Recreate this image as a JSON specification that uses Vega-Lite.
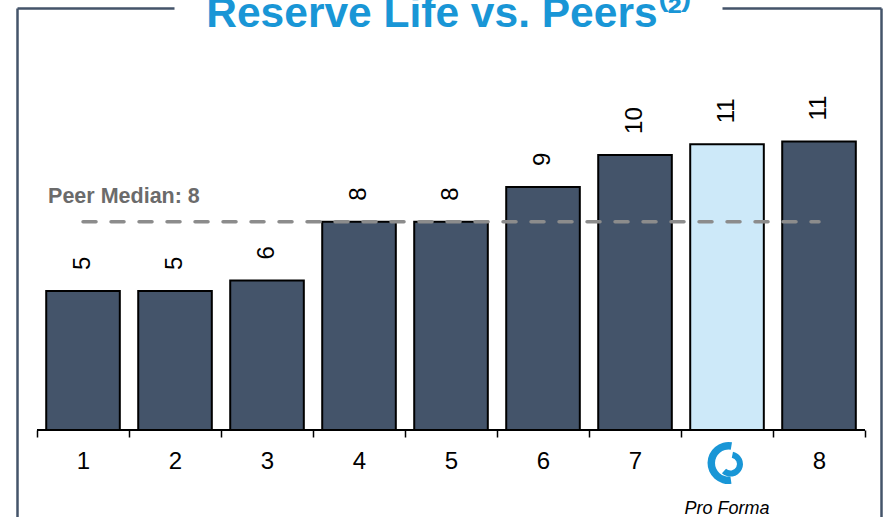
{
  "$schema": "https://vega.github.io/schema/vega-lite/v6.json",
  "width": 864,
  "height": 509,
  "autosize": {"type": "none"},
  "padding": {"left": 17, "top": 8, "right": 4, "bottom": 0},
  "background": "white",
  "config": {"view": {"stroke": null}, "font": "Liberation Sans"},
  "title": {
    "text": "Reserve Life vs. Peers⁽²⁾",
    "font": "Liberation Sans",
    "fontSize": 42.5,
    "fontWeight": "bold",
    "color": "#1996d6",
    "anchor": "middle",
    "baseline": "alphabetic",
    "offset": 0,
    "dy": 61,
    "frame": "group"
  },
  "datasets": {
    "peers": [
      {"company": "1", "reserve_life": 5.2, "group": "Peer"},
      {"company": "2", "reserve_life": 5.2, "group": "Peer"},
      {"company": "3", "reserve_life": 5.6, "group": "Peer"},
      {"company": "4", "reserve_life": 7.8, "group": "Peer"},
      {"company": "5", "reserve_life": 7.8, "group": "Peer"},
      {"company": "6", "reserve_life": 9.1, "group": "Peer"},
      {"company": "7", "reserve_life": 10.3, "group": "Peer"},
      {"company": "Pro Forma", "reserve_life": 10.7, "group": "Pro Forma"},
      {"company": "8", "reserve_life": 10.8, "group": "Peer"}
    ],
    "median": [{"label": "Peer Median", "reserve_life": 7.8}]
  },
  "data": {"name": "peers"},
  "resolve": {"axis": {"x": "independent", "y": "independent"}},
  "layer": [
    {
      "mark": {"type": "bar", "stroke": "black", "strokeWidth": 2, "width": {"band": 0.8}},
      "encoding": {
        "x": {
          "field": "company",
          "type": "nominal",
          "scale": {
            "domain": ["1", "2", "3", "4", "5", "6", "7", "Pro Forma", "8"],
            "paddingInner": 0,
            "paddingOuter": 0.1957,
            "align": 0.556
          },
          "axis": {
            "orient": "bottom",
            "title": null,
            "offset": -87,
            "domain": false,
            "tickColor": "black",
            "tickWidth": 1.5,
            "tickSize": 7,
            "tickBand": "extent",
            "labelFont": "Liberation Sans",
            "labelFontSize": 24,
            "labelColor": "black",
            "labelPadding": 12,
            "labelAngle": 0,
            "labelExpr": "datum.value == 'Pro Forma' ? '' : datum.label"
          }
        },
        "y": {
          "field": "reserve_life",
          "type": "quantitative",
          "scale": {"domain": [-3.26, 15.8], "nice": false, "zero": false},
          "axis": {
            "orient": "left",
            "title": null,
            "domainColor": "#44546a",
            "domainWidth": 2.5,
            "ticks": false,
            "labels": false,
            "grid": false
          }
        },
        "y2": {"datum": 0},
        "fill": {
          "field": "group",
          "type": "nominal",
          "scale": {"domain": ["Peer", "Pro Forma"], "range": ["#44546a", "#cde9f9"]},
          "legend": null
        }
      }
    },
    {
      "mark": {"type": "rule", "color": "black", "strokeWidth": 1.5},
      "encoding": {
        "x": {"datum": "1", "type": "nominal", "bandPosition": 0, "axis": null},
        "x2": {"datum": "8", "bandPosition": 1},
        "y": {"datum": 0, "type": "quantitative", "axis": null}
      }
    },
    {
      "mark": {
        "type": "text",
        "angle": 270,
        "align": "left",
        "baseline": "middle",
        "dx": 21,
        "fontSize": 24,
        "font": "Liberation Sans",
        "color": "black"
      },
      "encoding": {
        "x": {"field": "company", "type": "nominal", "axis": null},
        "y": {"field": "reserve_life", "type": "quantitative", "axis": null},
        "text": {"field": "reserve_life", "type": "quantitative", "format": ".0f"}
      }
    },
    {
      "data": {"name": "median"},
      "mark": {
        "type": "rule",
        "color": "#8c8c8c",
        "strokeWidth": 3.5,
        "strokeDash": [13, 15],
        "strokeCap": "round"
      },
      "encoding": {
        "x": {"datum": "1", "type": "nominal", "axis": null},
        "x2": {"datum": "8"},
        "y": {
          "field": "reserve_life",
          "type": "quantitative",
          "axis": {
            "orient": "right",
            "title": null,
            "domainColor": "#44546a",
            "domainWidth": 2.5,
            "ticks": false,
            "labels": false,
            "grid": true,
            "values": [15.8],
            "gridColor": "#44546a",
            "gridWidth": 2.5,
            "gridOpacity": 1,
            "gridDash": [159, 548, 400]
          }
        }
      }
    },
    {
      "data": {"name": "median"},
      "transform": [
        {"calculate": "datum.label + ': ' + format(datum.reserve_life, '.0f')", "as": "median_text"}
      ],
      "mark": {
        "type": "text",
        "align": "left",
        "baseline": "alphabetic",
        "dy": -18.5,
        "fontSize": 21.5,
        "fontWeight": "bold",
        "color": "#6b6b6b"
      },
      "encoding": {
        "x": {"datum": "1", "type": "nominal", "bandPosition": 0.12, "axis": null},
        "y": {"field": "reserve_life", "type": "quantitative", "axis": null},
        "text": {"field": "median_text", "type": "nominal"}
      }
    },
    {
      "transform": [{"filter": "datum.group == 'Pro Forma'"}],
      "mark": {
        "type": "text",
        "fontStyle": "italic",
        "fontSize": 18,
        "baseline": "alphabetic",
        "dy": 84,
        "color": "black"
      },
      "encoding": {
        "x": {"field": "company", "type": "nominal", "axis": null},
        "y": {"datum": 0, "type": "quantitative", "axis": null},
        "text": {"field": "group", "type": "nominal"}
      }
    },
    {
      "transform": [{"filter": "datum.group == 'Pro Forma'"}],
      "mark": {
        "type": "arc",
        "theta": 3.0,
        "theta2": 6.45,
        "innerRadius": 13.5,
        "outerRadius": 21,
        "xOffset": 1.5,
        "color": "#1996d6"
      },
      "encoding": {
        "x": {"field": "company", "type": "nominal", "axis": null},
        "y": {"datum": -1.24, "type": "quantitative", "axis": null}
      }
    },
    {
      "transform": [{"filter": "datum.group == 'Pro Forma'"}],
      "mark": {
        "type": "arc",
        "theta": 0.2,
        "theta2": 3.9,
        "innerRadius": 6.5,
        "outerRadius": 12.5,
        "xOffset": 3.5,
        "yOffset": 1,
        "color": "#1996d6"
      },
      "encoding": {
        "x": {"field": "company", "type": "nominal", "axis": null},
        "y": {"datum": -1.24, "type": "quantitative", "axis": null}
      }
    }
  ]
}
